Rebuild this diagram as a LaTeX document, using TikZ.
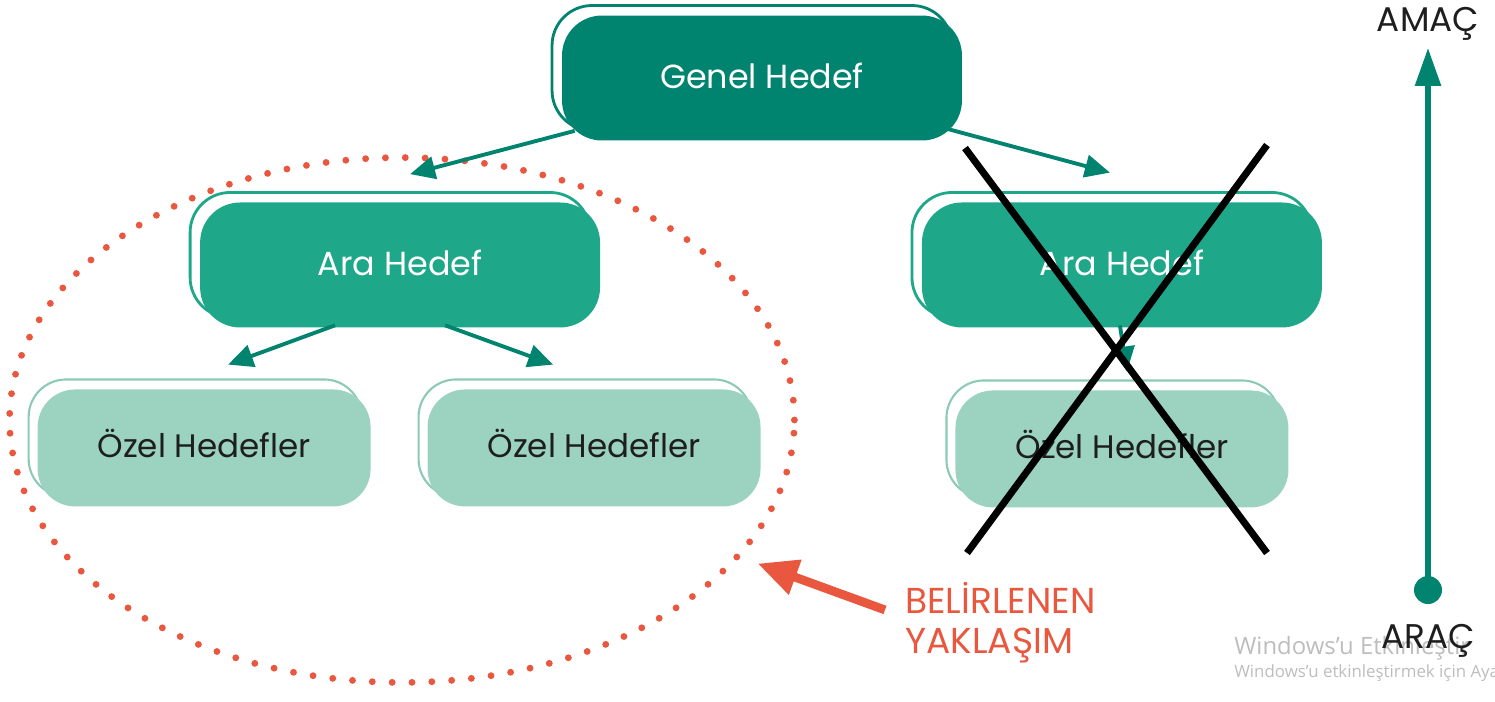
\documentclass[tikz,border=0pt]{standalone}
\usepackage{fontspec}
\setmainfont{Poppins}
\newfontfamily\winfont{Open Sans}
\usepackage{xcolor}
\usetikzlibrary{positioning,shapes.geometric,arrows.meta}

\definecolor{tealdark}{HTML}{00836F}
\definecolor{tealmid}{HTML}{1EA889}
\definecolor{teallight}{HTML}{9BD3C0}
\definecolor{tealline}{HTML}{8CCAB5}
\definecolor{redorange}{HTML}{E9573F}
\definecolor{inkdark}{HTML}{1E1E1E}
\definecolor{wingray}{HTML}{BDBDBD}

\begin{document}
\begin{tikzpicture}[
  x=0.02cm, y=-0.02cm,
  node distance=3.7cm, on grid,
  goalbox/.style={rectangle, rounded corners=0.8cm, fill=#1, text=white,
            minimum width=8cm, minimum height=2.5cm,
            font=\fontsize{19}{21}\selectfont, text depth=0.3em,
            preaction={draw=#1, line width=1.6pt, transform canvas={shift={(-0.2cm,0.2cm)}}}},
  subbox/.style={rectangle, rounded corners=0.75cm, fill=teallight, text=inkdark,
            minimum width=6.66cm, minimum height=2.34cm,
            font=\fontsize{18.5}{21}\selectfont, text depth=0.55em,
            preaction={draw=tealline, line width=1.2pt, transform canvas={shift={(-0.18cm,0.2cm)}}}},
  link/.style={draw=tealdark, line width=2.2pt,   % tree arrows
            -{Triangle[length=0.5cm,width=0.45cm]}},
  cross/.style={draw=black, line width=4pt},
  axislabel/.style={text=inkdark, inner sep=0pt, font=\fontsize{19.5}{21}\selectfont}
]
  \useasboundingbox (0,0) rectangle (1495,701);

  % chosen part of the tree
  \node[ellipse, draw=redorange, line width=3.9pt, line cap=round,
        dash pattern=on 0pt off 11.3pt,
        minimum width=15.7cm, minimum height=10.5cm] (focus) at (402,420) {};

  \node[goalbox=tealdark] (G) at (762,78) {Genel Hedef};
  \node[goalbox=tealmid] (AL) [below left=3.74cm and 7.24cm of G] {Ara Hedef};
  \node[goalbox=tealmid] (AR) [below right=3.74cm and 7.2cm of G] {Ara Hedef};
  \node[subbox] (OL) [below left=3.66cm and 3.92cm of AL] {Özel Hedefler};
  \node[subbox] (OM) [below right=3.66cm and 3.88cm of AL] {Özel Hedefler};
  \node[subbox] (OR) [below=3.68cm of AR] {Özel Hedefler};

  \draw[link] ([shift={(0.26cm,0.2cm)}]G.south west) -- ([shift={(0.2cm,0.56cm)}]AL.north);
  \draw[link] ([shift={(-0.34cm,0.25cm)}]G.south east) -- ([shift={(-0.24cm,0.59cm)}]AR.north);
  \draw[link] ([shift={(-1.3cm,0.05cm)}]AL.south) -- ([shift={(0.48cm,0.49cm)}]OL.north);
  \draw[link] ([shift={(0.9cm,0.05cm)}]AL.south) -- ([shift={(-0.82cm,0.49cm)}]OM.north);
  \draw[link] ([shift={(-0.04cm,0.05cm)}]AR.south) -- ([shift={(0.1cm,0.37cm)}]OR.north);

  % crossed out branch
  \coordinate (xa) at (965,148);
  \coordinate (xb) at (1267,553);
  \coordinate (xc) at (1267,145);
  \coordinate (xd) at (967,553);
  \draw[cross] (xa) -- (xb);
  \draw[cross] (xc) -- (xd);

  \node[text=redorange, align=left, anchor=north west, inner sep=0pt,
        font=\fontsize{20.5}{23}\selectfont] (approach) at (905,582) {BELİRLENEN\\YAKLAŞIM};
  \draw[draw=redorange, line width=5pt, -{Triangle[length=0.8cm,width=0.7cm]}]
    ([shift={(-0.4cm,0.26cm)}]approach.west) -- ([shift={(0.33cm,-0.13cm)}]focus.-22);

  % watermark
  \node[anchor=base west, text=wingray, inner sep=0pt,
        font=\winfont\fontsize{13.6}{15}\selectfont] (wmtop) at (1234,654) {Windows’u Etkinleştir};
  \node[anchor=base west, text=wingray, inner sep=0pt,
        font=\winfont\fontsize{9.6}{11}\selectfont] (wmbot) at (1234,677) {Windows’u etkinleştirmek için Ayarlar’a gidin.};

  % axis
  \node[axislabel] (goal) at (1428,24) {AMAÇ};
  \node[axislabel] (means) at (1428,641) {ARAÇ};
  \node[circle, fill=tealdark, minimum size=0.56cm, inner sep=0pt] (root) at (1428,590) {};
  \draw[draw=tealdark, line width=3.2pt, -{Triangle[length=0.76cm,width=0.5cm]}]
    (root.center) -- ([yshift=-0.14cm]goal.south);
\end{tikzpicture}
\end{document}
